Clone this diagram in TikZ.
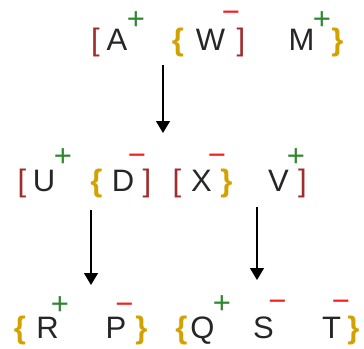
\documentclass[tikz,border=0pt]{standalone}
\usepackage{fontspec}
\setmainfont{Liberation Sans}
\usetikzlibrary{arrows.meta}
\definecolor{brk}{HTML}{A02C2C}
\definecolor{brc}{HTML}{D4A200}
\definecolor{plusc}{HTML}{2E862E}
\definecolor{minc}{HTML}{F22020}
\begin{document}
\begin{tikzpicture}[x=1pt,y=-1pt,
  glyph/.style={anchor=base,inner sep=0pt,outer sep=0pt,font=\fontsize{31}{37}\selectfont},
  letter/.style={glyph,text=black!85},
  sqb/.style={glyph,text=brk},
  cub/.style={glyph,text=brc,font=\fontsize{31}{37}\selectfont\bfseries},
  plusg/.style={glyph,text=plusc},
  negg/.style={glyph,text=minc},
  conn/.style={draw=black,line width=1.3pt,-{Triangle[width=14pt,length=12pt]}}]
\useasboundingbox (0,0) rectangle (364,348);
% row 1
\node[sqb]    (r1b1) at (95.5,50) {[};
\node[letter] (nA)   at (117,50) {A};
\node[plusg]  (pA)   at (136,29) {+};
\node[cub]    (r1c1) at (178,50) {\{};
\node[letter] (nW)   at (210.5,50) {W};
\node[negg]   (mW)   at (231,22) {−};
\node[sqb]    (r1b2) at (241,50) {]};
\node[letter] (nM)   at (301.5,50) {M};
\node[plusg]  (pM)   at (322,29) {+};
\node[cub]    (r1c2) at (337.5,50) {\}};
% row 2
\node[sqb]    (r2b1) at (22,191) {[};
\node[letter] (nU)   at (44,191) {U};
\node[plusg]  (pU)   at (63,166) {+};
\node[cub]    (r2c1) at (96.5,191) {\{};
\node[letter] (nD)   at (123,191) {D};
\node[negg]   (mD)   at (137,165) {−};
\node[sqb]    (r2b2) at (147,191) {]};
\node[sqb]    (r2b3) at (177,191) {[};
\node[letter] (nX)   at (201.5,191) {X};
\node[negg]   (mX)   at (217,165) {−};
\node[cub]    (r2c2) at (226.5,191) {\}};
\node[letter] (nV)   at (278.5,191) {V};
\node[plusg]  (pV)   at (296,166) {+};
\node[sqb]    (r2b4) at (302.5,191) {]};
% row 3
\node[cub]    (r3c1) at (20,338) {\{};
\node[letter] (nR)   at (47.5,338) {R};
\node[plusg]  (pR)   at (60,314) {+};
\node[letter] (nP)   at (116,338) {P};
\node[negg]   (mP)   at (124.5,314) {−};
\node[cub]    (r3c2) at (141.5,338) {\}};
\node[cub]    (r3c3) at (181.5,338) {\{};
\node[letter] (nQ)   at (202.5,338) {Q};
\node[plusg]  (pQ)   at (222,313) {+};
\node[letter] (nS)   at (263.5,338) {S};
\node[negg]   (mS)   at (277.5,311) {−};
\node[letter] (nT)   at (331.5,338) {T};
\node[negg]   (mT)   at (341,311) {−};
\node[cub]    (r3c4) at (353.5,338) {\}};
% connectors
\coordinate (a1s) at (163,65);
\coordinate (a1e) at (163,133);
\coordinate (a2s) at (91,210);
\coordinate (a2e) at (91,285);
\coordinate (a3s) at (257,207);
\coordinate (a3e) at (257,280);
\draw[conn] (a1s) -- (a1e);
\draw[conn] (a2s) -- (a2e);
\draw[conn] (a3s) -- (a3e);
\end{tikzpicture}
\end{document}
